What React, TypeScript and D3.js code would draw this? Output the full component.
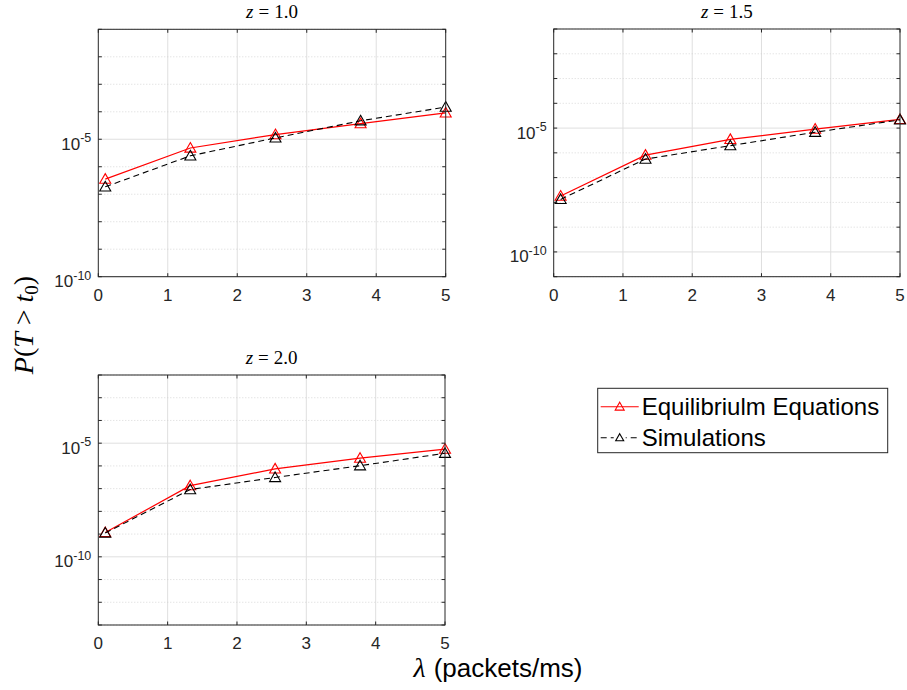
import React from "react";
import * as d3 from "d3";

const xValues = [0.1, 1.325, 2.55, 3.775, 5];
const xTicks = [0, 1, 2, 3, 4, 5];
const seriesNames = ["Equilibriulm Equations", "Simulations"];

const z10Eq = [3.55e-7, 4.8e-6, 1.48e-5, 3.7e-5, 9.1e-5];
const z10Sim = [1.86e-7, 2.5e-6, 1.12e-5, 4.7e-5, 1.48e-4];
const z15Eq = [1.8e-8, 8.1e-7, 3.5e-6, 9.1e-6, 2.24e-5];
const z15Sim = [1.32e-8, 5.6e-7, 1.95e-6, 6.8e-6, 2.14e-5];
const z20Eq = [1.17e-9, 1.35e-7, 7.4e-7, 2.19e-6, 5.5e-6];
const z20Sim = [1.12e-9, 9.1e-8, 3.1e-7, 1.02e-6, 3.6e-6];

const panelTitles = ["1.0", "1.5", "2.0"];
const yDomains: [number, number][] = [
  [1e-10, 1e-1],
  [1e-11, 1e-1],
  [1e-13, 1e-2],
];
const labeledExponents = [-10, -5];

const AX = "#262626";
const RED = "#ff0000";
const SANS = "Liberation Sans, Arial, sans-serif";
const SERIF = "Liberation Serif, Times New Roman, serif";

const panels = [
  { left: 98.3, right: 445.7, top: 29.3, bottom: 276.7, eq: z10Eq, sim: z10Sim, title: panelTitles[0], dom: yDomains[0] },
  { left: 553.7, right: 900, top: 29, bottom: 276.7, eq: z15Eq, sim: z15Sim, title: panelTitles[1], dom: yDomains[1] },
  { left: 98.3, right: 445, top: 375, bottom: 625, eq: z20Eq, sim: z20Sim, title: panelTitles[2], dom: yDomains[2] },
];

function tri(cx: number, cy: number, r = 5.5) {
  return `M${cx},${cy - r}L${cx + r},${cy + r * 0.75}L${cx - r},${cy + r * 0.75}Z`;
}

function Panel({ p }: { p: (typeof panels)[number] }) {
  const x = d3.scaleLinear().domain([0, 5]).range([p.left, p.right]);
  const y = d3.scaleLog().domain(p.dom).range([p.bottom, p.top]);
  const lo = Math.round(Math.log10(p.dom[0]));
  const hi = Math.round(Math.log10(p.dom[1]));
  const decades = d3.range(lo, hi + 1);
  const line = d3
    .line<number>()
    .x((_, i) => x(xValues[i]))
    .y((d) => y(d));
  const tl = 3.5;
  return (
    <g>
      <rect x={p.left} y={p.top} width={p.right - p.left} height={p.bottom - p.top} fill="#fff" />
      {xTicks.slice(1, -1).map((t) => (
        <line key={"gx" + t} x1={x(t)} x2={x(t)} y1={p.top} y2={p.bottom} stroke="#dfdfdf" strokeWidth={1} />
      ))}
      {decades.map((e) => {
        const yy = y(Math.pow(10, e));
        const major = labeledExponents.includes(e);
        return (
          <line
            key={"gy" + e}
            x1={p.left}
            x2={p.right}
            y1={yy}
            y2={yy}
            stroke={major ? "#dfdfdf" : "#cfcfcf"}
            strokeWidth={major ? 1 : 0.8}
            strokeDasharray={major ? undefined : "1,2"}
          />
        );
      })}
      <path d={line(p.eq) || ""} fill="none" stroke={RED} strokeWidth={1.2} />
      {p.eq.map((v, i) => (
        <path key={"me" + i} d={tri(x(xValues[i]), y(v))} fill="none" stroke={RED} strokeWidth={1.1} />
      ))}
      <path d={line(p.sim) || ""} fill="none" stroke="#000" strokeWidth={1.1} strokeDasharray="6,4" />
      {p.sim.map((v, i) => (
        <path key={"ms" + i} d={tri(x(xValues[i]), y(v))} fill="none" stroke="#000" strokeWidth={1.1} />
      ))}
      <rect x={p.left} y={p.top} width={p.right - p.left} height={p.bottom - p.top} fill="none" stroke={AX} strokeWidth={1} />
      {xTicks.map((t) => (
        <g key={"xt" + t}>
          <line x1={x(t)} x2={x(t)} y1={p.bottom} y2={p.bottom - tl} stroke={AX} />
          <line x1={x(t)} x2={x(t)} y1={p.top} y2={p.top + tl} stroke={AX} />
          <text x={x(t)} y={p.bottom + 24} textAnchor="middle" fontFamily={SANS} fontSize={17} fill={AX}>
            {t}
          </text>
        </g>
      ))}
      {decades.map((e) => {
        const yy = y(Math.pow(10, e));
        return (
          <g key={"yt" + e}>
            <line x1={p.left} x2={p.left + tl} y1={yy} y2={yy} stroke={AX} />
            <line x1={p.right} x2={p.right - tl} y1={yy} y2={yy} stroke={AX} />
          </g>
        );
      })}
      {labeledExponents.map((e) => {
        const yy = y(Math.pow(10, e));
        return (
          <text key={"yl" + e} x={p.left - 7} y={yy + 10.5} textAnchor="end" fontFamily={SANS} fontSize={17} fill={AX}>
            10
            <tspan fontSize={12.5} dy={-7.5}>
              {String(e)}
            </tspan>
          </text>
        );
      })}
      <text x={(p.left + p.right) / 2} y={p.top - 11} textAnchor="middle" fontFamily={SERIF} fontSize={19} fill="#000">
        <tspan fontStyle="italic">z</tspan>
        <tspan dx={5}>=</tspan>
        <tspan dx={5}>{p.title}</tspan>
      </text>
    </g>
  );
}

export default function App() {
  const legX = 597.7;
  const legY = 388.3;
  const legW = 290;
  const legH = 64.4;
  const rows = [406.7, 437.7];
  return (
    <svg width={907} height={690} style={{ position: "absolute", left: 0, top: 0, background: "#fff" }}>
      <rect width={907} height={690} fill="#fff" />
      {panels.map((p, i) => (
        <Panel key={i} p={p} />
      ))}
      <g>
        <rect x={legX} y={legY} width={legW} height={legH} fill="#fff" stroke={AX} strokeWidth={1} />
        {seriesNames.map((name, i) => {
          const cy = rows[i];
          const isEq = i === 0;
          return (
            <g key={name}>
              <line
                x1={legX + 3}
                x2={legX + 41}
                y1={cy}
                y2={cy}
                stroke={isEq ? RED : "#000"}
                strokeWidth={1.1}
                strokeDasharray={isEq ? undefined : "6,4"}
              />
              <rect x={legX + 16} y={cy - 6} width={12} height={12} fill="#fff" opacity={isEq ? 0 : 1} />
              <path d={tri(legX + 22, cy, isEq ? 4.5 : 4)} fill="none" stroke={isEq ? RED : "#000"} strokeWidth={1.1} />
              <text x={legX + 44} y={cy + 8.5} fontFamily={SANS} fontSize={24} fill="#000">
                {name}
              </text>
            </g>
          );
        })}
      </g>
      <text
        transform="translate(33,325) rotate(-90)"
        textAnchor="middle"
        fontFamily={SERIF}
        fontSize={28}
        fill="#000"
      >
        <tspan fontStyle="italic">P</tspan>
        <tspan>(</tspan>
        <tspan fontStyle="italic">T</tspan>
        <tspan dx={7}>{">"}</tspan>
        <tspan dx={7} fontStyle="italic">t</tspan>
        <tspan fontSize={19} dy={5}>0</tspan>
        <tspan dy={-5}>)</tspan>
      </text>
      <text x={498} y={677} textAnchor="middle" fontSize={26} fill="#000">
        <tspan fontFamily={SERIF} fontStyle="italic" fontSize={28}>λ</tspan>
        <tspan fontFamily={SANS} dx={8}>(packets/ms)</tspan>
      </text>
    </svg>
  );
}
